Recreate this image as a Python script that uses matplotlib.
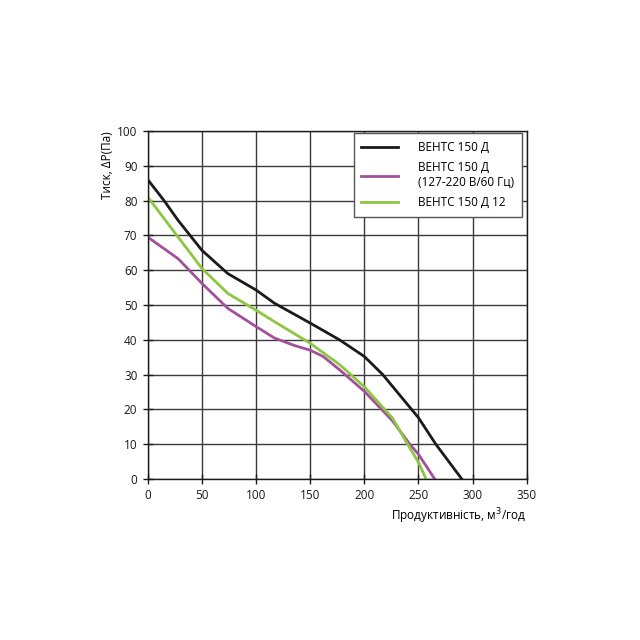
import matplotlib
matplotlib.use("Agg")
import matplotlib.pyplot as plt

plt.rcParams['font.family'] = ['Open Sans', 'DejaVu Sans']

# curves
black_x = [0, 15, 28, 50, 74, 100, 117, 150, 177, 200, 217, 250, 266, 290]
black_y = [86, 80, 74.3, 65.7, 59, 54.3, 50.5, 44.8, 40, 35.2, 30, 17.6, 10, 0]

purple_x = [0, 28, 50, 74, 100, 117, 135, 150, 162, 177, 200, 226, 242, 250, 265]
purple_y = [69.5, 63.3, 56.2, 49, 43.8, 40.5, 38.4, 37, 35.2, 31.4, 25.2, 16.7, 10, 7.1, 0]

green_x = [0, 28, 50, 74, 100, 117, 150, 177, 200, 226, 239, 250, 257]
green_y = [81, 69.5, 60.5, 53.3, 48.5, 45.2, 39, 32.9, 26.5, 17.5, 10.5, 4.8, 0]

labels = ['ВЕНТС 150 Д', 'ВЕНТС 150 Д\n(127-220 В/60 Гц)', 'ВЕНТС 150 Д 12']
colors = ['#1a1a1a', '#a2509c', '#8dc63f']

xticks = list(range(0, 351, 50))
yticks = list(range(0, 101, 10))

fig = plt.figure(figsize=(6.4, 6.4), dpi=100)
ax = fig.add_axes([0.231, 0.2516, 0.592, 0.5437])

ax.plot(black_x, black_y, color=colors[0], lw=2, label=labels[0], solid_joinstyle='round')
ax.plot(purple_x, purple_y, color=colors[1], lw=2, label=labels[1], solid_joinstyle='round')
ax.plot(green_x, green_y, color=colors[2], lw=2, label=labels[2], solid_joinstyle='round')

ax.set_xlim(0, 350)
ax.set_ylim(0, 100)
ax.set_xticks(xticks)
ax.set_yticks(yticks)
ax.grid(True, color='#3a3a3a', lw=1)
ax.set_axisbelow(True)
for s in ax.spines.values():
    s.set_color('#1a1a1a')
    s.set_linewidth(1)
ax.tick_params(direction='inout', length=7, width=1, labelsize=8.5, colors='#1a1a1a', pad=4)

ax.set_xlabel('Продуктивність, м$^3$/год', fontsize=8.5, loc='right', labelpad=3)
ax.set_ylabel('Тиск, ΔР(Па)', fontsize=8.5, loc='top', labelpad=2)

leg = ax.legend(loc='upper right', fontsize=8.5, frameon=True, fancybox=False,
                edgecolor='#555555', framealpha=1, handlelength=3.1,
                borderpad=0.65, labelspacing=0.6, handletextpad=1.7,
                borderaxespad=0, bbox_to_anchor=(0.987, 0.994))
leg.get_frame().set_linewidth(1)

fig.savefig('out.png', dpi=100)
